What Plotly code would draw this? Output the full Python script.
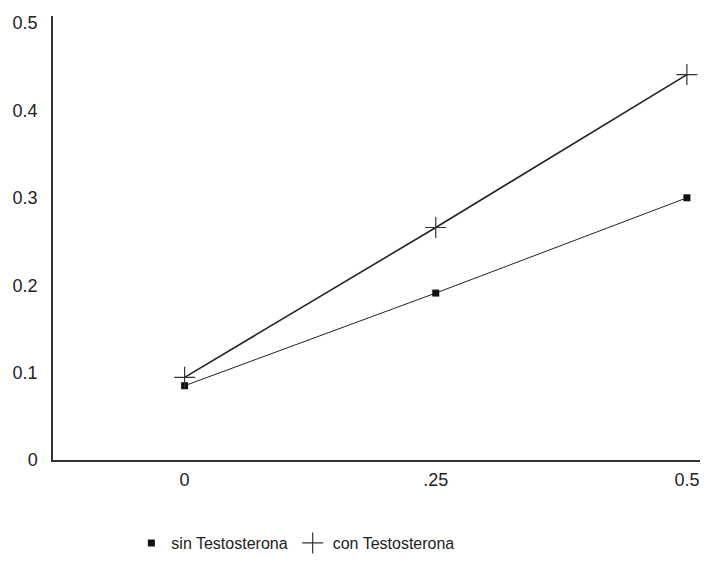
import plotly.graph_objects as go

x_vals = [0, 0.25, 0.5]
x_labels = ["0", ".25", "0.5"]
sin_testo = [0.085, 0.191, 0.300]
con_testo = [0.0946, 0.266, 0.441]
y_ticks = [0, 0.1, 0.2, 0.3, 0.4, 0.5]
y_labels = ["0", "0.1", "0.2", "0.3", "0.4", "0.5"]

sq_marker = dict(symbol="square", size=7, color="#111111")
cross_marker = dict(symbol="cross-thin", size=15, line=dict(color="#333333", width=1.2))

fig = go.Figure()
fig.add_trace(go.Scatter(
    x=x_vals, y=sin_testo, name="sin Testosterona", mode="lines+markers",
    line=dict(color="#222222", width=1), marker=sq_marker, showlegend=False,
))
fig.add_trace(go.Scatter(
    x=x_vals, y=con_testo, name="con Testosterona", mode="lines+markers",
    line=dict(color="#222222", width=1.6), marker=cross_marker, showlegend=False,
))
# legend entries (symbol only, as in the original)
fig.add_trace(go.Scatter(x=[None], y=[None], name="sin Testosterona", mode="markers",
                         marker=sq_marker))
fig.add_trace(go.Scatter(x=[None], y=[None], name="con Testosterona", mode="markers",
                         marker=cross_marker))

fig.update_layout(
    width=708, height=572,
    margin=dict(l=33, r=10, t=5, b=120),
    paper_bgcolor="white", plot_bgcolor="white",
    font=dict(family="Liberation Sans, Arial, sans-serif", size=18, color="#222222"),
    showlegend=True,
    legend=dict(orientation="h", x=0.12, xanchor="left", y=-0.187, yanchor="middle",
                font=dict(size=16), traceorder="normal"),
    xaxis=dict(range=[-0.131, 0.519], tickvals=x_vals, ticktext=x_labels,
               showgrid=False, zeroline=False, showline=True, linecolor="#333333",
               linewidth=1.5, ticks="", ticklabelstandoff=3, ticklabeloverflow="allow"),
    yaxis=dict(range=[0, 0.508], tickvals=y_ticks, ticktext=y_labels,
               showgrid=False, zeroline=False, showline=True, linecolor="#333333",
               linewidth=1.5, ticks="", ticklabelstandoff=10, ticklabeloverflow="allow"),
)

fig.write_html("out.html")
